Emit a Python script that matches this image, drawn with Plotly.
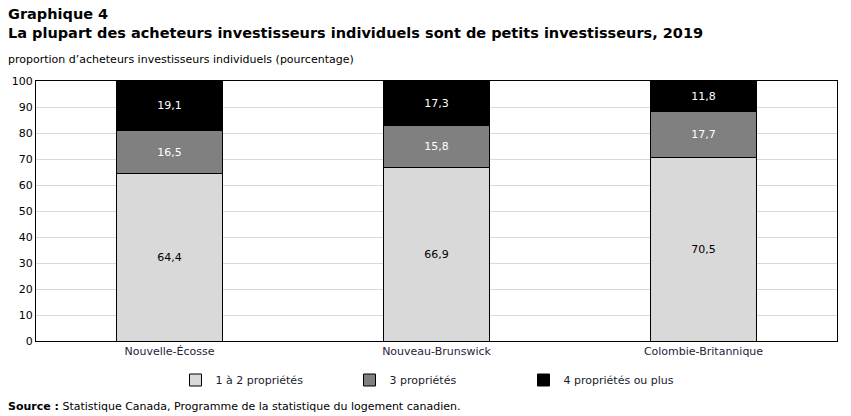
import plotly.graph_objects as go

categories = ["Nouvelle-Écosse", "Nouveau-Brunswick", "Colombie-Britannique"]
series_names = ["1 à 2 propriétés", "3 propriétés", "4 propriétés ou plus"]
v_1a2 = [64.4, 66.9, 70.5]
v_3 = [16.5, 15.8, 17.7]
v_4plus = [19.1, 17.3, 11.8]
tick_vals = list(range(0, 101, 10))

colors = ["#d9d9d9", "#808080", "#000000"]
text_colors = ["#000000", "#ffffff", "#ffffff"]
FONT = "DejaVu Sans"

fig = go.Figure()
for name, vals, c, tc in zip(series_names, [v_1a2, v_3, v_4plus], colors, text_colors):
    fig.add_trace(go.Bar(
        x=categories, y=vals, name=name,
        marker=dict(color=c, line=dict(color="#000000", width=1)),
        text=[f"{v:.1f}".replace(".", ",") for v in vals],
        textposition="inside", insidetextanchor="middle",
        textfont=dict(color=tc, size=11, family=FONT),
        hoverinfo="skip",
    ))

W, H = 851, 416
L, R, T, B = 36, 14, 81, 75
ph = H - T - B
pw = W - L - R

def py(p):
    return (H - B - p) / ph

def px(p):
    return (p - L) / pw

fig.update_layout(
    width=W, height=H, barmode="stack", bargap=0.6,
    margin=dict(l=L, r=R, t=T, b=B),
    paper_bgcolor="white", plot_bgcolor="white",
    font=dict(family=FONT, size=11, color="#000000"),
    showlegend=True,
    legend=dict(orientation="h", x=0.5, xanchor="center", y=py(380), yanchor="middle",
                traceorder="normal", entrywidth=129, itemclick=False,
                font=dict(size=11, family=FONT, color="#1a1a2e")),
    xaxis=dict(showline=True, linecolor="#000000", linewidth=1, mirror=True,
               ticks="", tickfont=dict(size=11, color="#2a1a3a")),
    yaxis=dict(range=[0, 100], tickvals=tick_vals, showgrid=True, gridcolor="#d9d9d9",
               showline=True, linecolor="#000000", linewidth=1, mirror=True,
               ticks="", zeroline=False, tickfont=dict(size=11)),
    annotations=[
        dict(text="<b>Graphique 4</b>", x=px(6), y=py(14), xref="paper", yref="paper",
             xanchor="left", yanchor="middle", showarrow=False, font=dict(size=14.5, family=FONT)),
        dict(text="<b>La plupart des acheteurs investisseurs individuels sont de petits investisseurs, 2019</b>",
             x=px(6), y=py(33), xref="paper", yref="paper",
             xanchor="left", yanchor="middle", showarrow=False, font=dict(size=14.5, family=FONT)),
        dict(text="proportion d’acheteurs investisseurs individuels (pourcentage)",
             x=px(6), y=py(59), xref="paper", yref="paper",
             xanchor="left", yanchor="middle", showarrow=False, font=dict(size=11, family=FONT)),
        dict(text="<b>Source :</b> Statistique Canada, Programme de la statistique du logement canadien.",
             x=px(6), y=py(406), xref="paper", yref="paper",
             xanchor="left", yanchor="middle", showarrow=False, font=dict(size=11, family=FONT)),
    ],
)

fig.write_html("out.html")
